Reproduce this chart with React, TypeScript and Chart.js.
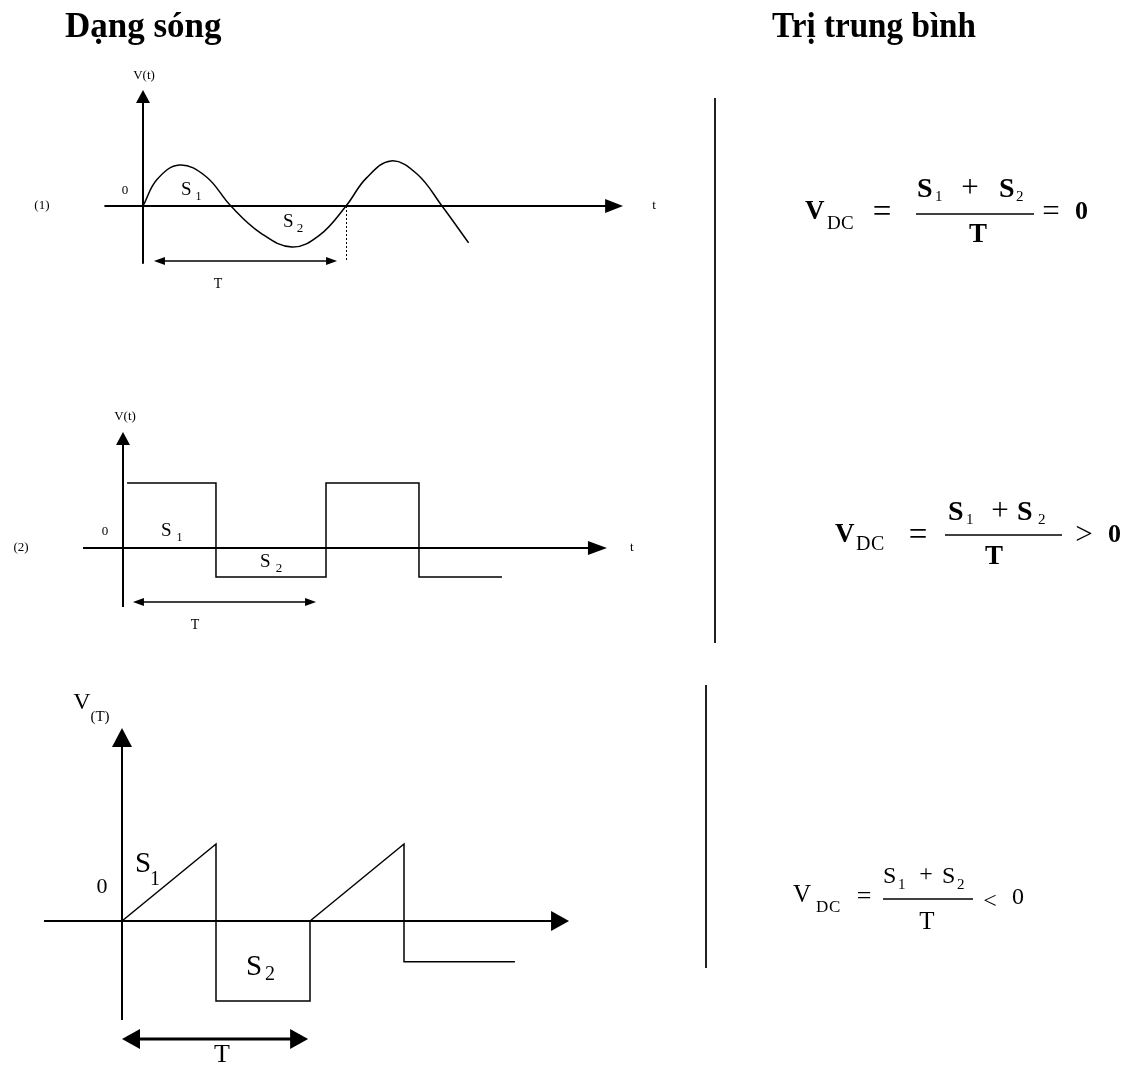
import React, { useEffect, useRef } from "react";
import { Chart, registerables } from "chart.js";
Chart.register(...registerables);

const PAGE_W = 1130;
const PAGE_H = 1066;

// ---- waveform data (t in periods, v in relative volts) ----
const sineT = [0, 0.07, 0.18, 0.31, 0.433, 0.58, 0.734, 0.87, 1.0, 1.1, 1.222, 1.35, 1.473, 1.604];
const sineV = [0, 0.65, 1.0, 0.72, 0, -0.66, -1.0, -0.71, 0, 0.68, 1.1, 0.78, 0, -0.9];

const squareT = [0.02, 0.458, 0.458, 1.0, 1.0, 1.458, 1.458, 1.867];
const squareV = [1, 1, -0.446, -0.446, 1, 1, -0.446, -0.446];

const sawT = [0, 0.5, 0.5, 1.0, 1.0, 1.5, 1.5, 2.09];
const sawV = [0, 1, -1.04, -1.04, 0, 1, -0.53, -0.53];

const titles = ["Dạng sóng", "Trị trung bình"];
const rowLabels = ["(1)", "(2)"];
const axisNames = ["V(t)", "V(t)", "V", "(T)"];
const relations = ["=", ">", "<"];

// ---- layout (pixel origin and pixel per unit for each panel) ----
const panels = [
  { ox: 143, oy: 206, ux: 203, uy: 41 },
  { ox: 123, oy: 548, ux: 203, uy: 65 },
  { ox: 122, oy: 921, ux: 188, uy: 77 },
];
const xRange = (p: any) => ({ min: -p.ox / p.ux, max: (PAGE_W - p.ox) / p.ux });
const yRange = (p: any) => ({ min: -(PAGE_H - p.oy) / p.uy, max: p.oy / p.uy });

const SERIF = '"Liberation Serif", "Times New Roman", serif';

const toPts = (ts: number[], vs: number[]) => ts.map((t, i) => ({ x: t, y: vs[i] }));

function fillArrow(ctx: CanvasRenderingContext2D, x: number, y: number, dir: string, len: number, half: number) {
  ctx.beginPath();
  if (dir === "right") { ctx.moveTo(x, y); ctx.lineTo(x - len, y - half); ctx.lineTo(x - len, y + half); }
  else if (dir === "left") { ctx.moveTo(x, y); ctx.lineTo(x + len, y - half); ctx.lineTo(x + len, y + half); }
  else { ctx.moveTo(x, y); ctx.lineTo(x - half, y + len); ctx.lineTo(x + half, y + len); }
  ctx.closePath();
  ctx.fill();
}

function line(ctx: CanvasRenderingContext2D, x1: number, y1: number, x2: number, y2: number, w: number) {
  ctx.lineWidth = w;
  ctx.beginPath();
  ctx.moveTo(x1, y1);
  ctx.lineTo(x2, y2);
  ctx.stroke();
}

function text(ctx: CanvasRenderingContext2D, s: string, x: number, y: number, font: string, align: CanvasTextAlign = "center", baseline: CanvasTextBaseline = "middle", maxW?: number) {
  ctx.font = font;
  ctx.textAlign = align;
  ctx.textBaseline = baseline;
  if (maxW) ctx.fillText(s, x, y, maxW);
  else ctx.fillText(s, x, y);
}

// axes / arrows per panel, in data units
const axesSpec = [
  { x: [-0.19, 2.365], xa: [18, 7], y: [-1.41, 2.83], ya: [13, 7], aw: 2, T: { v: -1.34, t: [0.054, 0.956], len: 11, half: 4, w: 1.5 } },
  { x: [-0.197, 2.384], xa: [19, 7], y: [-0.908, 1.785], ya: [13, 7], aw: 2, T: { v: -0.83, t: [0.049, 0.951], len: 11, half: 4, w: 1.5 } },
  { x: [-0.415, 2.378], xa: [18, 10], y: [-1.286, 2.506], ya: [19, 10], aw: 2, T: { v: -1.532, t: [0, 0.99], len: 18, half: 10, w: 3 } },
];

// labels per panel, in data units
const labelSpec = [
  [
    { s: axisNames[0], t: 0.005, v: 3.17, size: 13 },
    { s: "0", t: -0.089, v: 0.37, size: 13 },
    { s: rowLabels[0], t: -0.498, v: 0, size: 13 },
    { s: "t", t: 2.517, v: 0, size: 13 },
    { s: "T", t: 0.369, v: -1.9, size: 14 },
    { s: "S", t: 0.187, v: 0.39, size: 19, a: "left" },
    { s: "1", t: 0.259, v: 0.22, size: 12, a: "left" },
    { s: "S", t: 0.69, v: -0.39, size: 19, a: "left" },
    { s: "2", t: 0.757, v: -0.56, size: 13, a: "left" },
  ],
  [
    { s: axisNames[1], t: 0.01, v: 2.015, size: 13 },
    { s: "0", t: -0.089, v: 0.26, size: 13 },
    { s: rowLabels[1], t: -0.502, v: 0, size: 13 },
    { s: "t", t: 2.507, v: 0, size: 13 },
    { s: "T", t: 0.355, v: -1.185, size: 14 },
    { s: "S", t: 0.187, v: 0.26, size: 19, a: "left" },
    { s: "1", t: 0.264, v: 0.154, size: 12, a: "left" },
    { s: "S", t: 0.675, v: -0.215, size: 19, a: "left" },
    { s: "2", t: 0.752, v: -0.31, size: 13, a: "left" },
  ],
  [
    { s: axisNames[2], t: -0.213, v: 2.83, size: 24 },
    { s: axisNames[3], t: -0.117, v: 2.65, size: 15 },
    { s: "0", t: -0.106, v: 0.44, size: 22 },
    { s: "T", t: 0.532, v: -1.74, size: 26 },
    { s: "S", t: 0.069, v: 0.74, size: 29, a: "left" },
    { s: "1", t: 0.149, v: 0.53, size: 20, a: "left" },
    { s: "S", t: 0.66, v: -0.6, size: 29, a: "left" },
    { s: "2", t: 0.761, v: -0.7, size: 20, a: "left" },
  ],
];

function drawFormula(ctx: CanvasRenderingContext2D, f: any) {
  const B = (n: number) => (f.bold ? "bold " : "") + n + "px " + SERIF;
  const R = (n: number) => n + "px " + SERIF;
  text(ctx, "V", f.V[0], f.V[1], B(f.big), "left");
  text(ctx, "D", f.DC[0], f.DC[1], R(f.sub), "left");
  text(ctx, "C", f.DC[0] + f.DCgap, f.DC[1], R(f.sub), "left");
  text(ctx, "=", f.eq[0], f.eq[1], R(f.op), "center");
  line(ctx, f.bar[0], f.bar[2], f.bar[1], f.bar[2], 1.5);
  text(ctx, "S", f.S1[0], f.S1[1], B(f.sBig), "left");
  text(ctx, "1", f.n1[0], f.n1[1], R(f.num), "left");
  text(ctx, "+", f.plus[0], f.plus[1], R(f.op - 2), "center");
  text(ctx, "S", f.S2[0], f.S2[1], B(f.sBig), "left");
  text(ctx, "2", f.n2[0], f.n2[1], R(f.num), "left");
  text(ctx, "T", f.T[0], f.T[1], B(f.big), "center");
  text(ctx, f.rel, f.relPos[0], f.relPos[1], R(f.op - 2), "center");
  text(ctx, "0", f.zero[0], f.zero[1], B(f.big - 1), "left");
}

const formulas = [
  { bold: true, big: 27, sBig: 28, op: 33, sub: 19, num: 15, DCgap: 14, V: [805, 212], DC: [827, 224], eq: [882, 213], bar: [916, 1034, 214], S1: [917, 190], n1: [935, 197], plus: [970, 189], S2: [999, 190], n2: [1016, 197], T: [978, 235], rel: relations[0], relPos: [1051, 213], zero: [1075, 212] },
  { bold: true, big: 27, sBig: 28, op: 33, sub: 20, num: 15, DCgap: 15, V: [835, 535], DC: [856, 545], eq: [918, 536], bar: [945, 1062, 535], S1: [948, 513], n1: [966, 520], plus: [1000, 512], S2: [1017, 513], n2: [1038, 520], T: [994, 557], rel: relations[1], relPos: [1084, 536], zero: [1108, 535] },
  { bold: false, big: 25, sBig: 24, op: 26, sub: 17, num: 15, DCgap: 13, V: [793, 895], DC: [816, 908], eq: [864, 897], bar: [883, 973, 899], S1: [883, 877], n1: [898, 885], plus: [926, 875], S2: [942, 877], n2: [957, 885], T: [927, 922], rel: relations[2], relPos: [990, 902], zero: [1012, 898] },
];

const diagramPlugin = {
  id: "diagram",
  beforeDatasetsDraw(chart: any) {
    const ctx: CanvasRenderingContext2D = chart.ctx;
    ctx.save();
    ctx.fillStyle = "#000";
    ctx.strokeStyle = "#000";
    axesSpec.forEach((a, i) => {
      const xs = chart.scales["x" + (i + 1)];
      const ys = chart.scales["y" + (i + 1)];
      const X = (t: number) => xs.getPixelForValue(t);
      const Y = (v: number) => ys.getPixelForValue(v);
      const x0 = X(0), y0 = Y(0);
      line(ctx, X(a.x[0]), y0, X(a.x[1]) - a.xa[0] + 1, y0, a.aw);
      fillArrow(ctx, X(a.x[1]), y0, "right", a.xa[0], a.xa[1]);
      line(ctx, x0, Y(a.y[0]), x0, Y(a.y[1]) + a.ya[0] - 1, a.aw);
      fillArrow(ctx, x0, Y(a.y[1]), "up", a.ya[0], a.ya[1]);
      const ty = Y(a.T.v);
      const tl = X(a.T.t[0]), tr = X(a.T.t[1]);
      line(ctx, tl + a.T.len - 1, ty, tr - a.T.len + 1, ty, a.T.w);
      fillArrow(ctx, tl, ty, "left", a.T.len, a.T.half);
      fillArrow(ctx, tr, ty, "right", a.T.len, a.T.half);
    });
    const xs = chart.scales.x1, ys = chart.scales.y1;
    const xd = Math.round(xs.getPixelForValue(1)) + 0.5;
    ctx.setLineDash([2, 2]);
    line(ctx, xd, ys.getPixelForValue(0), xd, ys.getPixelForValue(-1.32), 1);
    ctx.setLineDash([]);
    ctx.restore();
  },
  afterDatasetsDraw(chart: any) {
    const ctx: CanvasRenderingContext2D = chart.ctx;
    ctx.save();
    ctx.fillStyle = "#000";
    ctx.strokeStyle = "#000";
    labelSpec.forEach((labels, i) => {
      const xs = chart.scales["x" + (i + 1)];
      const ys = chart.scales["y" + (i + 1)];
      labels.forEach((l: any) => {
        text(ctx, l.s, xs.getPixelForValue(l.t), ys.getPixelForValue(l.v), l.size + "px " + SERIF, (l.a || "center") as CanvasTextAlign);
      });
    });
    text(ctx, titles[0], 65, 37, "bold 35px " + SERIF, "left", "alphabetic");
    text(ctx, titles[1], 772, 37, "bold 35px " + SERIF, "left", "alphabetic", 204);
    ctx.strokeStyle = "#222";
    line(ctx, 715, 98, 715, 643, 2);
    line(ctx, 706, 685, 706, 968, 2);
    ctx.strokeStyle = "#000";
    formulas.forEach((f) => drawFormula(ctx, f));
    ctx.restore();
  },
};

export default function App() {
  const ref = useRef<HTMLCanvasElement>(null);
  useEffect(() => {
    const ds = (ts: number[], vs: number[], i: number, smooth: boolean) => ({
      data: toPts(ts, vs),
      xAxisID: "x" + i,
      yAxisID: "y" + i,
      showLine: true,
      borderColor: "#000",
      borderWidth: 1.5,
      pointRadius: 0,
      fill: false,
      tension: smooth ? 0.4 : 0,
      cubicInterpolationMode: "default",
    });
    const scales: any = {};
    panels.forEach((p, k) => {
      scales["x" + (k + 1)] = { type: "linear", display: false, ...xRange(p) };
      scales["y" + (k + 1)] = { type: "linear", display: false, ...yRange(p) };
    });
    const chart = new Chart(ref.current as HTMLCanvasElement, {
      type: "scatter",
      data: {
        datasets: [
          ds(sineT, sineV, 1, true),
          ds(squareT, squareV, 2, false),
          ds(sawT, sawV, 3, false),
        ] as any,
      },
      options: {
        responsive: false,
        animation: false,
        devicePixelRatio: 1,
        events: [],
        layout: { padding: 0 },
        plugins: { legend: { display: false }, tooltip: { enabled: false } },
        scales,
      } as any,
      plugins: [diagramPlugin],
    });
    return () => chart.destroy();
  }, []);
  return (
    <div style={{ position: "absolute", left: 0, top: 0, width: PAGE_W, height: PAGE_H, background: "#fff" }}>
      <canvas ref={ref} width={PAGE_W} height={PAGE_H} style={{ display: "block" }} />
    </div>
  );
}
